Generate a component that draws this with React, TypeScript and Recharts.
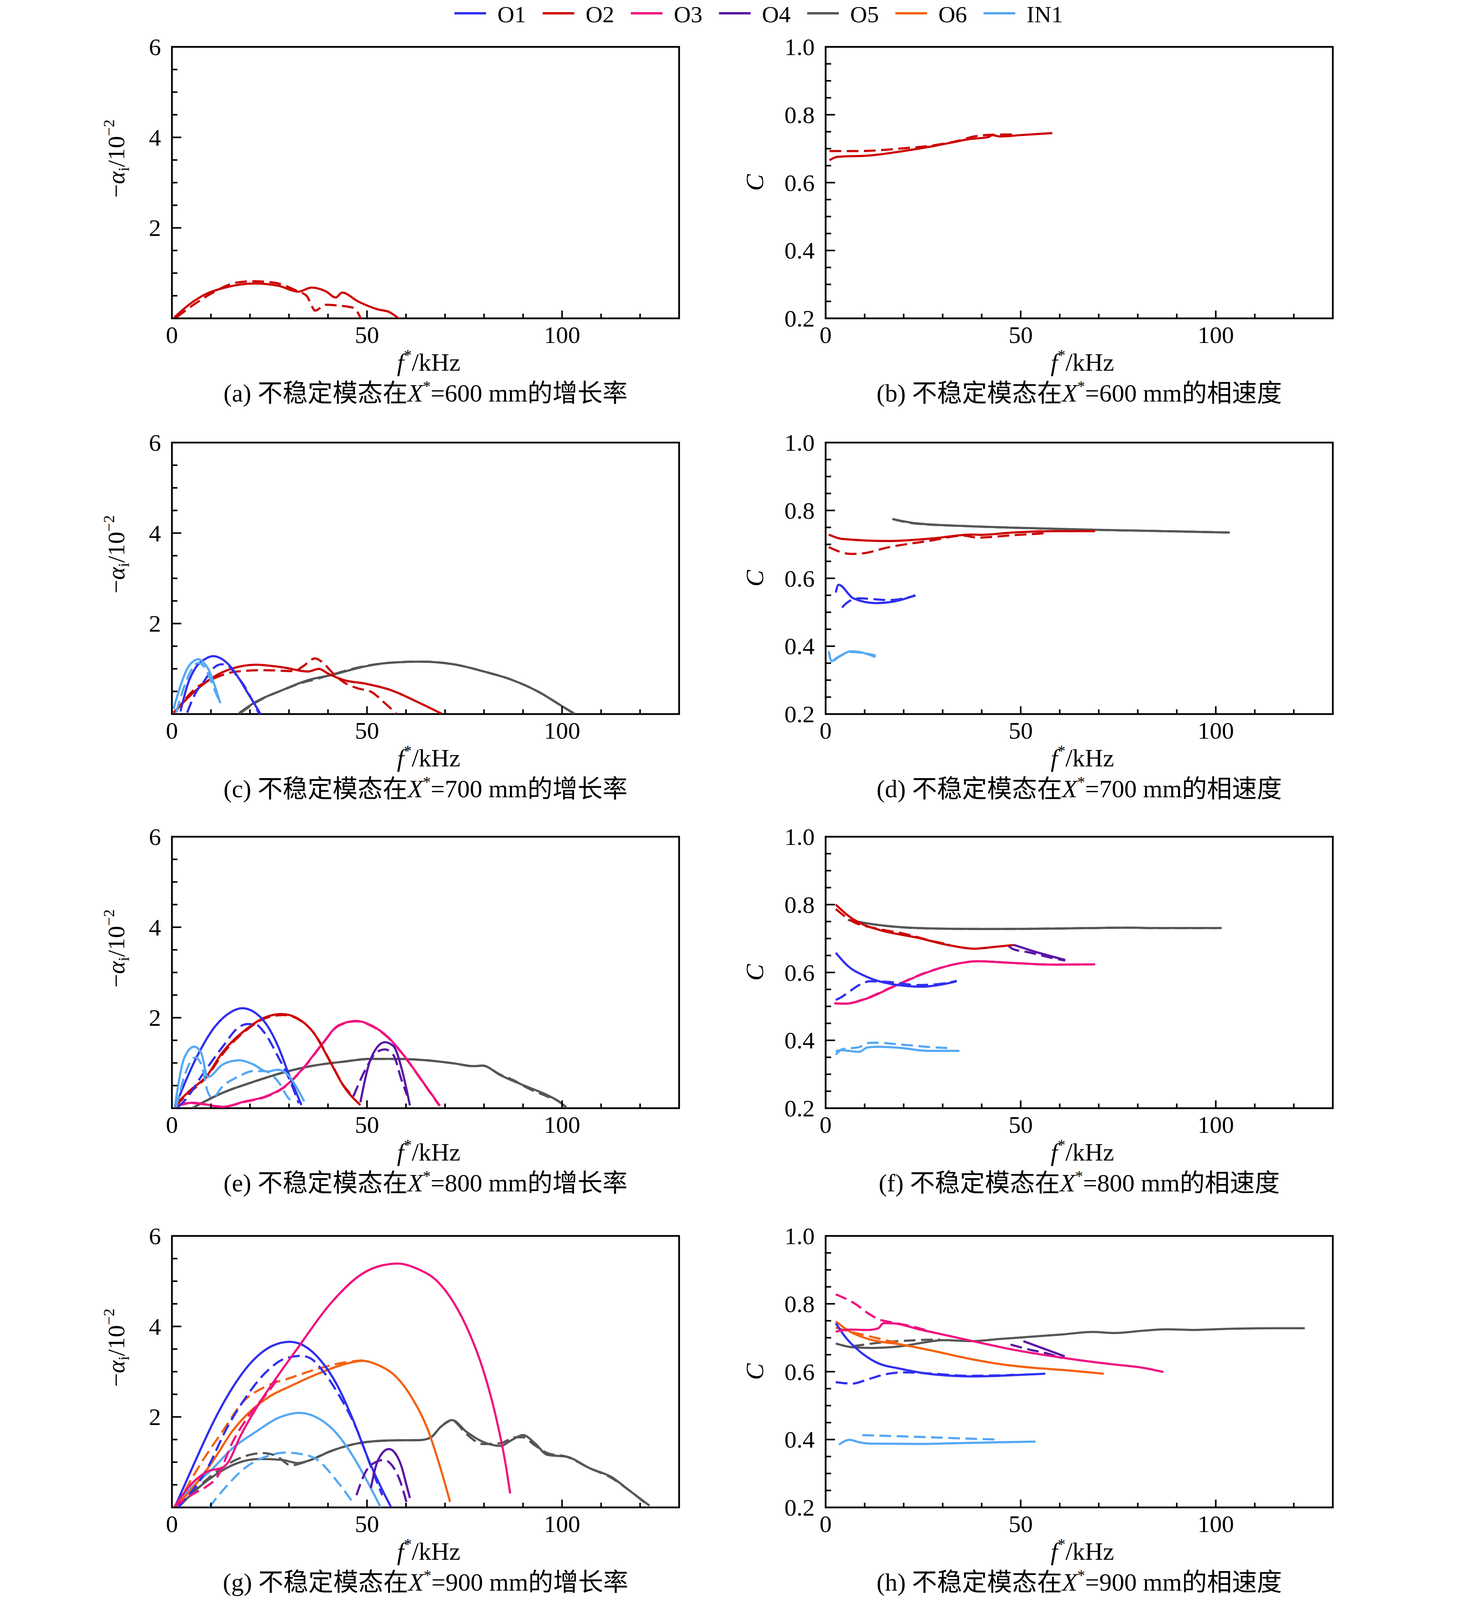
import React from 'react';
import { LineChart, Line, XAxis, YAxis, ReferenceArea } from 'recharts';

type Pt = [number, number];

// ---- shared axis ticks ----
const X_TICKS = [0, 10, 20, 30, 40, 50, 60, 70, 80, 90, 100, 110, 120, 130];
const X_LABELS = [0, 50, 100];
const GROWTH_TICKS = [0, 0.5, 1, 1.5, 2, 2.5, 3, 3.5, 4, 4.5, 5, 5.5, 6];
const GROWTH_LABELS = [2, 4, 6];
const PHASE_TICKS = [0.2, 0.25, 0.3, 0.35, 0.4, 0.45, 0.5, 0.55, 0.6, 0.65, 0.7, 0.75, 0.8, 0.85, 0.9, 0.95, 1.0];
const PHASE_LABELS = [0.2, 0.4, 0.6, 0.8, 1.0];

const LEGEND = ['O1', 'O2', 'O3', 'O4', 'O5', 'O6', 'IN1'];
const COLORS: Record<string, string> = {
  O1: '#2f2ff0',
  O2: '#cc0000',
  O3: '#f0127f',
  O4: '#5a14a6',
  O5: '#555555',
  O6: '#f4620f',
  IN1: '#55a8f2',
};

// ---- (a) X*=600 mm growth ----
const a_O2: Pt[] = [[0.6, 0.02], [4.5, 0.31], [8.1, 0.51], [14.1, 0.69], [21.3, 0.77], [27.3, 0.72], [32.4, 0.59], [35.8, 0.68], [39.4, 0.6], [42, 0.46], [43.6, 0.57], [47.8, 0.37], [52.7, 0.2], [55.7, 0.14], [58.1, 0]];
const a_O2d: Pt[] = [[1.1, 0.02], [5.7, 0.31], [10.5, 0.57], [16.5, 0.79], [20.7, 0.82], [26.1, 0.79], [32.2, 0.6], [34.6, 0.49], [35.8, 0.28], [36.7, 0.17], [39.4, 0.3], [43, 0.28], [46.6, 0.23], [48.4, 0]];

// ---- (b) X*=600 mm phase speed ----
const b_O2: Pt[] = [[1, 0.666], [3, 0.676], [11.4, 0.68], [19.9, 0.693], [28.3, 0.709], [33.1, 0.72], [36.7, 0.728], [41.6, 0.734], [42.8, 0.74], [44.6, 0.736], [50, 0.74], [58.1, 0.746]];
const b_O2d: Pt[] = [[1, 0.693], [7.8, 0.693], [19.9, 0.701], [28.3, 0.711], [34.3, 0.724], [38, 0.736], [42.8, 0.741], [48.8, 0.742]];

// ---- (c) X*=700 mm growth ----
const c_IN1: Pt[] = [[0.4, 0.11], [1.8, 0.52], [3.9, 1.0], [5.7, 1.18], [6.8, 1.21], [8.2, 1.13], [9.6, 0.95], [11, 0.62], [12.4, 0.24]];
const c_IN1d: Pt[] = [[1.1, 0.04], [3.2, 0.62], [5.4, 1.03], [6.8, 1.13], [8.2, 1.05], [9.6, 0.82], [11, 0.52], [12.4, 0.24]];
const c_O1: Pt[] = [[2.2, 0.06], [3.9, 0.62], [6.1, 1.03], [8.2, 1.2], [10.6, 1.28], [13.1, 1.2], [15.2, 1.03], [17.3, 0.77], [19.4, 0.47], [21.2, 0.22], [22.7, 0]];
const c_O1d: Pt[] = [[3.9, 0.03], [6.1, 0.47], [8.2, 0.72], [10.6, 1.01], [12.7, 1.1], [14.5, 1.06], [16.6, 0.85], [18.7, 0.6], [20.5, 0.32], [22.3, 0.01]];
const c_O2: Pt[] = [[0.4, 0.03], [6.1, 0.52], [10.3, 0.8], [15.2, 1.0], [21.5, 1.09], [28.6, 1.03], [34.9, 0.94], [37.7, 1.0], [39.9, 0.9], [44.1, 0.75], [49.7, 0.67], [56.1, 0.53], [62.4, 0.29], [69.1, 0.01]];
const c_O2d: Pt[] = [[0.8, 0.04], [6.1, 0.57], [10.3, 0.77], [16.6, 0.94], [23.7, 0.97], [31.4, 0.95], [33.5, 1.05], [36.7, 1.23], [38.5, 1.15], [41.3, 0.9], [44.1, 0.7], [47.6, 0.57], [51.1, 0.49], [54.6, 0.24], [57.5, 0.01]];
const c_O5: Pt[] = [[17.2, 0.02], [21.5, 0.27], [28.6, 0.54], [34.9, 0.75], [41.3, 0.87], [48.3, 1.03], [55.4, 1.13], [63.8, 1.16], [72.2, 1.1], [80, 0.94], [87, 0.76], [94, 0.49], [99.7, 0.19], [103.2, 0.01]];
const c_O5d: Pt[] = [[17.5, 0.02], [22, 0.28], [29, 0.55], [34.5, 0.72], [36, 0.75], [41.3, 0.88], [48.3, 1.04], [55.4, 1.13], [63.8, 1.16], [72.2, 1.1], [80, 0.94], [87, 0.76], [94, 0.49], [99.7, 0.19], [103, 0.01]];

// ---- (d) X*=700 mm phase speed ----
const d_O5: Pt[] = [[17.1, 0.775], [23.3, 0.762], [36, 0.754], [55, 0.747], [69, 0.743], [86.7, 0.739], [103.6, 0.735]];
const d_O5d: Pt[] = [[17.3, 0.774], [23.3, 0.761], [36, 0.754], [55, 0.747], [69, 0.743], [86.7, 0.739], [103, 0.735]];
const d_O2: Pt[] = [[0.8, 0.729], [4.3, 0.716], [16.3, 0.71], [26.9, 0.717], [37.4, 0.729], [39.5, 0.728], [48, 0.735], [58.6, 0.739], [69.1, 0.739]];
const d_O2d: Pt[] = [[0.8, 0.692], [6.4, 0.672], [9, 0.673], [16.3, 0.692], [26.9, 0.711], [35.3, 0.726], [38.8, 0.72], [48, 0.727], [56.5, 0.733]];
const d_O1: Pt[] = [[2.6, 0.558], [3.3, 0.581], [7.1, 0.541], [12.8, 0.527], [17.7, 0.532], [23, 0.55]];
const d_O1d: Pt[] = [[4.2, 0.514], [5.7, 0.53], [8.6, 0.541], [16.3, 0.536], [23, 0.549]];
const d_IN1: Pt[] = [[0.8, 0.385], [1.5, 0.356], [3.6, 0.37], [6.4, 0.385], [8.6, 0.383], [12.8, 0.368]];
const d_IN1d: Pt[] = [[2.2, 0.361], [4.3, 0.375], [6.4, 0.383], [12.8, 0.373]];

// ---- (e) X*=800 mm growth ----
const e_O1: Pt[] = [[0.8, 0.03], [6, 1.07], [11, 1.8], [15.2, 2.13], [18, 2.21], [20.8, 2.14], [24.4, 1.83], [27.2, 1.37], [30, 0.74], [33.2, 0.07]];
const e_O1d: Pt[] = [[1.5, 0.02], [3.2, 0.16], [8.2, 0.79], [13.1, 1.37], [17, 1.78], [19.4, 1.86], [21.5, 1.85], [23.7, 1.67], [27.2, 1.14], [30, 0.66], [32.5, 0.11]];
const e_O2: Pt[] = [[0.8, 0.07], [4.6, 0.39], [8.9, 0.71], [13, 1.24], [18.7, 1.72], [23.7, 2.0], [28.2, 2.08], [32.1, 1.99], [36.3, 1.67], [40.6, 1.02], [44, 0.49], [48.3, 0.07]];
const e_O2d: Pt[] = [[0.8, 0.05], [5, 0.38], [9, 0.7], [13.2, 1.22], [19, 1.72], [24, 1.99], [28.5, 2.06], [32.3, 1.97], [36.5, 1.65], [40.8, 1.0], [44, 0.5], [46.5, 0.26]];
const e_O3: Pt[] = [[0.8, 0.06], [5.4, 0.12], [13, 0.03], [18.7, 0.15], [23.7, 0.25], [28.6, 0.46], [33.5, 0.87], [38.5, 1.42], [42.7, 1.83], [47.3, 1.93], [51.1, 1.83], [55.4, 1.57], [60.3, 1.07], [64.5, 0.56], [68.7, 0.05]];
const e_O3d: Pt[] = [[1, 0.05], [5.5, 0.11], [13, 0.03], [18.7, 0.14], [23.7, 0.24], [28.6, 0.45], [33.5, 0.86], [38.5, 1.41], [42.7, 1.82], [47.3, 1.92], [51.1, 1.82], [55.4, 1.56], [60.3, 1.06], [64.5, 0.55], [68.5, 0.06]];
const e_O4: Pt[] = [[48.3, 0.13], [51.1, 1.12], [54.6, 1.46], [56.8, 1.37], [58.9, 0.87], [61, 0.06]];
const e_O4d: Pt[] = [[46.5, 0.26], [49.7, 0.87], [52.5, 1.24], [54.6, 1.3], [56.8, 1.17], [58.9, 0.61], [60.3, 0.28]];
const e_O5: Pt[] = [[5.4, 0.01], [13, 0.34], [20.1, 0.56], [28.6, 0.79], [35.6, 0.93], [44.1, 1.03], [51.1, 1.09], [56.8, 1.09], [65.2, 1.06], [72.3, 0.99], [77.2, 0.93], [79.6, 0.94], [84.2, 0.73], [90.6, 0.49], [96.2, 0.29], [99, 0.16], [101.1, 0.02]];
const e_O5d: Pt[] = [[5.4, 0.01], [13, 0.34], [20.1, 0.56], [28.6, 0.79], [35.6, 0.93], [44.1, 1.03], [51.1, 1.09], [56.8, 1.09], [65.2, 1.06], [72.3, 0.99], [77.2, 0.93], [79.6, 0.94], [84.2, 0.74], [88, 0.6], [90.6, 0.47], [96.2, 0.26], [99, 0.16], [101, 0.02]];
const e_IN1: Pt[] = [[0.8, 0.06], [3.2, 1.12], [5.7, 1.36], [7.5, 1.22], [9.2, 0.69], [13.1, 0.97], [17.3, 1.06], [20.8, 0.97], [24.4, 0.81], [27.2, 0.85], [30, 0.71], [32.1, 0.44], [33.9, 0.15]];
const e_IN1d: Pt[] = [[1.1, 0.03], [4.6, 1.0], [6, 1.12], [7.6, 0.95], [9.2, 0.36], [10.3, 0.23], [13.1, 0.49], [17.3, 0.71], [20.8, 0.82], [23.7, 0.82], [27.2, 0.59], [30, 0.21], [30.7, 0.16]];

// ---- (f) X*=800 mm phase speed ----
const f_O2: Pt[] = [[2.6, 0.8], [6.4, 0.762], [9.3, 0.743], [14.2, 0.724], [23.3, 0.703], [31.8, 0.68], [38.1, 0.67], [43.8, 0.676], [48.3, 0.681]];
const f_O2d: Pt[] = [[2.6, 0.787], [7.1, 0.749], [12.8, 0.73], [19.8, 0.715], [28.3, 0.69], [31.8, 0.682]];
const f_O4: Pt[] = [[48.3, 0.681], [54.3, 0.659], [61.4, 0.637]];
const f_O4d: Pt[] = [[46.9, 0.678], [48, 0.669], [52.2, 0.659], [57.1, 0.645], [61.4, 0.635]];
const f_O5: Pt[] = [[5.7, 0.755], [12.8, 0.741], [19.8, 0.733], [30.4, 0.729], [40.9, 0.728], [55, 0.729], [69.1, 0.731], [78.3, 0.732], [83, 0.731], [101.5, 0.731]];
const f_O5d: Pt[] = [[6, 0.754], [12.8, 0.741], [19.8, 0.733], [30.4, 0.729], [40.9, 0.728], [55, 0.729], [69.1, 0.731], [78.3, 0.732], [83, 0.731], [100.5, 0.731]];
const f_O1: Pt[] = [[2.6, 0.658], [5.7, 0.619], [10, 0.59], [16.3, 0.567], [24.8, 0.558], [29, 0.563], [33.6, 0.574]];
const f_O1d: Pt[] = [[2.6, 0.519], [4, 0.527], [6.1, 0.544], [9.3, 0.567], [11.4, 0.574], [16.3, 0.572], [23.3, 0.563], [28.3, 0.565], [33.6, 0.575]];
const f_O3: Pt[] = [[2.2, 0.509], [5, 0.508], [10, 0.521], [17, 0.556], [25.5, 0.598], [33.9, 0.626], [38.8, 0.633], [48, 0.628], [58.6, 0.623], [69.1, 0.624]];
const f_O3d: Pt[] = [[2.4, 0.509], [5, 0.508], [10, 0.522], [17, 0.557], [25.5, 0.599], [33.9, 0.626], [38.8, 0.633], [48, 0.628], [58.6, 0.623], [68.5, 0.624]];
const f_IN1: Pt[] = [[2.6, 0.368], [4, 0.371], [8.6, 0.366], [10.7, 0.379], [13.5, 0.381], [19.8, 0.377], [26.2, 0.369], [34.3, 0.369]];
const f_IN1d: Pt[] = [[2.6, 0.358], [4.3, 0.374], [8.6, 0.38], [10.7, 0.392], [12.8, 0.393], [19.8, 0.387], [26.9, 0.38], [31.4, 0.377]];

// ---- (g) X*=900 mm growth ----
const g_O3: Pt[] = [[0.7, 0.02], [4.1, 0.43], [9, 0.79], [13.2, 0.89], [14.5, 1.01], [17.4, 1.55], [22.3, 2.29], [26.5, 2.83], [32.3, 3.53], [40.6, 4.5], [48.9, 5.17], [53.9, 5.35], [58, 5.39], [63, 5.27], [68, 5.0], [72.2, 4.53], [76.3, 3.84], [79.7, 3.06], [83, 2.02], [85.5, 0.97], [86.7, 0.31]];
const g_O3d: Pt[] = [[0.7, 0.02], [5.7, 0.31], [9, 0.47], [11.5, 0.66], [15.7, 1.47], [19.9, 2.05], [25.7, 2.67], [27.5, 2.9]];
const g_O1: Pt[] = [[0.7, 0], [5.7, 0.97], [10.7, 1.9], [15.7, 2.67], [20.7, 3.24], [25.7, 3.57], [30.2, 3.66], [33.9, 3.57], [38, 3.26], [42.3, 2.71], [46.4, 1.94], [50.6, 1.01], [53.9, 0.39], [56.2, 0]];
const g_O1d: Pt[] = [[1.5, 0], [9, 0.85], [14, 1.74], [19, 2.44], [24, 2.98], [29, 3.29], [33.1, 3.35], [35.6, 3.29], [39, 2.98], [43.1, 2.44], [47.3, 1.74], [51.4, 0.81], [53.9, 0.27]];
const g_O6: Pt[] = [[0.7, 0], [5.7, 0.47], [10.7, 1.05], [15.7, 1.71], [20.7, 2.17], [24.8, 2.44], [30.6, 2.69], [37.3, 2.95], [44, 3.16], [48.9, 3.24], [53, 3.14], [57.2, 2.91], [61.4, 2.44], [65.5, 1.74], [68.9, 0.85], [71.3, 0.12]];
const g_O6d: Pt[] = [[1.2, 0.04], [7.4, 0.97], [13.2, 1.71], [18.2, 2.33], [24, 2.67], [30.6, 2.87], [37.3, 3.06], [44, 3.2], [48.9, 3.25]];
const g_IN1: Pt[] = [[0.7, 0], [4.9, 0.43], [9.9, 0.81], [15.7, 1.32], [21.5, 1.67], [27.3, 1.98], [32.7, 2.09], [37.3, 1.98], [41.4, 1.71], [45.6, 1.24], [49.8, 0.62], [53.5, 0]];
const g_IN1d: Pt[] = [[9.5, 0], [14, 0.47], [19, 0.89], [24, 1.12], [29, 1.21], [33.1, 1.18], [37.3, 1.05], [42.3, 0.58], [46.8, 0.06]];
const g_O5: Pt[] = [[1.6, 0], [5.7, 0.35], [11.5, 0.74], [16.5, 0.97], [22.3, 1.07], [28.2, 1.05], [32.3, 0.98], [35.6, 1.05], [40.6, 1.24], [47.3, 1.41], [55.6, 1.48], [63.9, 1.49], [66.4, 1.55], [68.9, 1.78], [71.8, 1.93], [75.5, 1.67], [79.7, 1.45], [84.2, 1.36], [87.1, 1.49], [90, 1.6], [92.9, 1.43], [96.3, 1.16], [101.2, 1.12], [107, 0.87], [112.9, 0.66], [117, 0.39], [122.4, 0.04]];
const g_O5d: Pt[] = [[1.6, 0], [10.7, 0.74], [17.4, 1.09], [23.2, 1.2], [26.5, 1.15], [30.6, 0.93], [34, 1.0], [40.6, 1.24], [47.3, 1.41], [55.6, 1.48], [63.9, 1.49], [66.4, 1.55], [68.9, 1.78], [71.8, 1.92], [75.5, 1.62], [79.7, 1.4], [84.2, 1.42], [88, 1.55], [90, 1.55], [92.9, 1.38], [96.3, 1.2], [101.2, 1.12], [107, 0.87], [112.9, 0.64], [117, 0.39], [122, 0.05]];
const g_O4: Pt[] = [[51, 0.43], [52.2, 0.89], [53.9, 1.2], [55.6, 1.29], [57.2, 1.2], [58.9, 0.89], [60.1, 0.5], [61, 0.21]];
const g_O4d: Pt[] = [[47.3, 0.27], [49.8, 0.81], [52.2, 1.0], [54.3, 1.05], [56.4, 0.93], [58.5, 0.58], [60.1, 0.12]];

// ---- (h) X*=900 mm phase speed ----
const h_O3: Pt[] = [[2.6, 0.718], [6.1, 0.724], [11, 0.723], [13.5, 0.728], [14.8, 0.743], [17.7, 0.742], [23.5, 0.726], [31.8, 0.705], [40.1, 0.684], [48.4, 0.664], [56.7, 0.648], [65, 0.634], [73.3, 0.622], [81.6, 0.611], [86.6, 0.599]];
const h_O3d: Pt[] = [[2.6, 0.828], [7.7, 0.799], [11, 0.771], [13.5, 0.755], [17.7, 0.744], [22.7, 0.732], [27, 0.718]];
const h_O6: Pt[] = [[2.6, 0.748], [6.1, 0.719], [11, 0.696], [19.4, 0.68], [27.7, 0.661], [36, 0.64], [44.3, 0.623], [52.6, 0.612], [60.9, 0.605], [71.3, 0.594]];
const h_O6d: Pt[] = [[2.6, 0.73], [6.9, 0.716], [11, 0.705], [15.2, 0.693], [19.4, 0.684]];
const h_O5: Pt[] = [[2.6, 0.683], [6.9, 0.672], [11.9, 0.67], [19.4, 0.675], [25.2, 0.686], [30.1, 0.693], [37.6, 0.69], [44.3, 0.696], [52.6, 0.703], [60.9, 0.71], [68.4, 0.717], [74.2, 0.714], [81.6, 0.721], [87.5, 0.725], [94.1, 0.723], [102.4, 0.726], [114.9, 0.728], [122.8, 0.728]];
const h_O5d: Pt[] = [[6.9, 0.675], [15.2, 0.687], [23.5, 0.693], [29.3, 0.695]];
const h_O1: Pt[] = [[2.6, 0.743], [5.2, 0.7], [8.6, 0.661], [12.7, 0.629], [19.4, 0.608], [27.7, 0.592], [38.5, 0.586], [46.8, 0.589], [56.3, 0.594]];
const h_O1d: Pt[] = [[2.6, 0.569], [6.9, 0.565], [11, 0.578], [15.2, 0.592], [20.2, 0.598], [27.7, 0.594], [36, 0.588], [44.3, 0.589], [48.4, 0.591]];
const h_O4: Pt[] = [[50.7, 0.69], [61.3, 0.645]];
const h_O4d: Pt[] = [[47.4, 0.68], [52.6, 0.664], [56.7, 0.654], [60.5, 0.64]];
const h_IN1: Pt[] = [[3.4, 0.385], [6.1, 0.399], [8.6, 0.392], [11.9, 0.388], [23.5, 0.387], [36, 0.39], [53.8, 0.394]];
const h_IN1d: Pt[] = [[9.4, 0.413], [23.5, 0.408], [36, 0.403], [44.7, 0.4]];

type Series = { id: string; pts: Pt[]; dashed?: boolean };
type PanelDef = {
  letter: string;
  pos: string;
  kind: 'growth' | 'phase';
  col: number;
  row: number;
  series: Series[];
};

const PANELS: PanelDef[] = [
  { letter: 'a', pos: '600', kind: 'growth', col: 0, row: 0, series: [
    { id: 'O2', pts: a_O2 }, { id: 'O2', pts: a_O2d, dashed: true },
  ] },
  { letter: 'b', pos: '600', kind: 'phase', col: 1, row: 0, series: [
    { id: 'O2', pts: b_O2 }, { id: 'O2', pts: b_O2d, dashed: true },
  ] },
  { letter: 'c', pos: '700', kind: 'growth', col: 0, row: 1, series: [
    { id: 'O5', pts: c_O5 }, { id: 'O5', pts: c_O5d, dashed: true },
    { id: 'O2', pts: c_O2 }, { id: 'O2', pts: c_O2d, dashed: true },
    { id: 'O1', pts: c_O1 }, { id: 'O1', pts: c_O1d, dashed: true },
    { id: 'IN1', pts: c_IN1 }, { id: 'IN1', pts: c_IN1d, dashed: true },
  ] },
  { letter: 'd', pos: '700', kind: 'phase', col: 1, row: 1, series: [
    { id: 'O5', pts: d_O5 }, { id: 'O5', pts: d_O5d, dashed: true },
    { id: 'O2', pts: d_O2 }, { id: 'O2', pts: d_O2d, dashed: true },
    { id: 'O1', pts: d_O1 }, { id: 'O1', pts: d_O1d, dashed: true },
    { id: 'IN1', pts: d_IN1 }, { id: 'IN1', pts: d_IN1d, dashed: true },
  ] },
  { letter: 'e', pos: '800', kind: 'growth', col: 0, row: 2, series: [
    { id: 'O5', pts: e_O5 }, { id: 'O5', pts: e_O5d, dashed: true },
    { id: 'O3', pts: e_O3 }, { id: 'O3', pts: e_O3d, dashed: true },
    { id: 'O4', pts: e_O4 }, { id: 'O4', pts: e_O4d, dashed: true },
    { id: 'O2', pts: e_O2 }, { id: 'O2', pts: e_O2d, dashed: true },
    { id: 'O1', pts: e_O1 }, { id: 'O1', pts: e_O1d, dashed: true },
    { id: 'IN1', pts: e_IN1 }, { id: 'IN1', pts: e_IN1d, dashed: true },
  ] },
  { letter: 'f', pos: '800', kind: 'phase', col: 1, row: 2, series: [
    { id: 'O5', pts: f_O5 }, { id: 'O5', pts: f_O5d, dashed: true },
    { id: 'O3', pts: f_O3 }, { id: 'O3', pts: f_O3d, dashed: true },
    { id: 'O2', pts: f_O2 }, { id: 'O2', pts: f_O2d, dashed: true },
    { id: 'O4', pts: f_O4 }, { id: 'O4', pts: f_O4d, dashed: true },
    { id: 'O1', pts: f_O1 }, { id: 'O1', pts: f_O1d, dashed: true },
    { id: 'IN1', pts: f_IN1 }, { id: 'IN1', pts: f_IN1d, dashed: true },
  ] },
  { letter: 'g', pos: '900', kind: 'growth', col: 0, row: 3, series: [
    { id: 'O5', pts: g_O5 }, { id: 'O5', pts: g_O5d, dashed: true },
    { id: 'IN1', pts: g_IN1 }, { id: 'IN1', pts: g_IN1d, dashed: true },
    { id: 'O6', pts: g_O6 }, { id: 'O6', pts: g_O6d, dashed: true },
    { id: 'O1', pts: g_O1 }, { id: 'O1', pts: g_O1d, dashed: true },
    { id: 'O4', pts: g_O4 }, { id: 'O4', pts: g_O4d, dashed: true },
    { id: 'O3', pts: g_O3 }, { id: 'O3', pts: g_O3d, dashed: true },
  ] },
  { letter: 'h', pos: '900', kind: 'phase', col: 1, row: 3, series: [
    { id: 'O5', pts: h_O5 }, { id: 'O5', pts: h_O5d, dashed: true },
    { id: 'O6', pts: h_O6 }, { id: 'O6', pts: h_O6d, dashed: true },
    { id: 'O1', pts: h_O1 }, { id: 'O1', pts: h_O1d, dashed: true },
    { id: 'O4', pts: h_O4 }, { id: 'O4', pts: h_O4d, dashed: true },
    { id: 'O3', pts: h_O3 }, { id: 'O3', pts: h_O3d, dashed: true },
    { id: 'IN1', pts: h_IN1 }, { id: 'IN1', pts: h_IN1d, dashed: true },
  ] },
];

// ---- layout ----
// The photographed page comes out 4096 px tall, so the 4666 px tall
// reference layout is squeezed vertically by KY (x positions unchanged).
const PAGE_W = 3780;
const PAGE_H = 4096;
const KY = PAGE_H / 4666;
const PLOT_W = 1298;
const PLOT_H = Math.round(792 * KY);
const COL_LEFT = [440, 2113];
const ROW_TOP = [137, 1291, 2440, 3604].map((v) => Math.round(v * KY));
const PAD_LEFT = 200; // chart space left of the plot (margin + 1px axis)
const PAD_TOP = 70;
const M = { top: PAD_TOP, right: 60, bottom: 129, left: PAD_LEFT - 1 };
const FONT = "'Liberation Serif', 'Times New Roman', 'Noto Sans CJK SC', serif";
const TICK_FS = 62;
const TITLE_FS = 64;
const LINE_W = 5.5;
const DASH = '30 14';

const near = (list: number[], v: number) => list.some((l) => Math.abs(l - v) < 1e-6);

const XTick = (props: any) => {
  const { x, y, payload } = props;
  const major = near(X_LABELS, payload.value);
  return (
    <g>
      <line x1={x} x2={x} y1={y} y2={y - (major ? 20 : 12)} stroke="#000" strokeWidth={4} />
      {major && (
        <text x={x} y={y + 63} textAnchor="middle" fontFamily={FONT} fontSize={TICK_FS} fill="#000">
          {payload.value}
        </text>
      )}
    </g>
  );
};

const makeYTick = (labels: number[], fmt: (v: number) => string) => (props: any) => {
  const { x, y, payload } = props;
  const major = near(labels, payload.value);
  return (
    <g>
      <line x1={x} x2={x + (major ? 24 : 14)} y1={y} y2={y} stroke="#000" strokeWidth={4} />
      {major && (
        <text x={x - 28} y={y + 21} textAnchor="end" fontFamily={FONT} fontSize={TICK_FS} fill="#000">
          {fmt(payload.value)}
        </text>
      )}
    </g>
  );
};

const GrowthTick = makeYTick(GROWTH_LABELS, (v) => String(v));
const PhaseTick = makeYTick(PHASE_LABELS, (v) => v.toFixed(1));

function Panel({ def }: { def: PanelDef }) {
  const left = COL_LEFT[def.col];
  const top = ROW_TOP[def.row];
  const growth = def.kind === 'growth';
  const yDomain: [number, number] = growth ? [0, 6] : [0.2, 1.0];
  return (
    <div style={{ position: 'absolute', left: left - PAD_LEFT, top: top - PAD_TOP }}>
      <LineChart width={PLOT_W + PAD_LEFT + M.right} height={PLOT_H + PAD_TOP + M.bottom + 1} margin={M}>
        <XAxis
          type="number"
          dataKey="x"
          domain={[0, 130]}
          ticks={X_TICKS}
          interval={0}
          allowDataOverflow
          height={1}
          tickSize={0}
          tickMargin={0}
          axisLine={false}
          tickLine={false}
          tick={(p: any) => <XTick {...p} />}
        />
        <YAxis
          type="number"
          domain={yDomain}
          ticks={growth ? GROWTH_TICKS : PHASE_TICKS}
          interval={0}
          allowDataOverflow
          width={1}
          tickSize={0}
          tickMargin={0}
          axisLine={false}
          tickLine={false}
          tick={(p: any) => (growth ? <GrowthTick {...p} /> : <PhaseTick {...p} />)}
        />
        {def.series.map((s, i) => (
          <Line
            key={`${def.letter}-${s.id}-${i}`}
            data={s.pts.map(([x, y]) => ({ x, y }))}
            dataKey="y"
            type="monotone"
            stroke={COLORS[s.id]}
            strokeWidth={LINE_W}
            strokeDasharray={s.dashed ? DASH : undefined}
            dot={false}
            activeDot={false}
            isAnimationActive={false}
          />
        ))}
        <ReferenceArea
          x1={0}
          x2={130}
          y1={yDomain[0]}
          y2={yDomain[1]}
          fill="none"
          stroke="#000"
          strokeWidth={4.5}
          ifOverflow="visible"
        />
      </LineChart>
    </div>
  );
}

function Texts() {
  return (
    <svg
      width={PAGE_W}
      height={PAGE_H}
      style={{ position: 'absolute', left: 0, top: 0, pointerEvents: 'none' }}
      fontFamily={FONT}
    >
      {LEGEND.map((id, i) => {
        const x0 = 1163 + i * 225.7;
        return (
          <g key={id}>
            <line x1={x0} x2={x0 + 81} y1={34} y2={34} stroke={COLORS[id]} strokeWidth={6} />
            <text x={x0 + 110} y={57} fontSize={60} fill="#000">{id}</text>
          </g>
        );
      })}
      {PANELS.map((p) => {
        const left = COL_LEFT[p.col];
        const top = ROW_TOP[p.row];
        const cx = left + PLOT_W / 2;
        const bottom = top + PLOT_H;
        const growth = p.kind === 'growth';
        return (
          <g key={p.letter}>
            <text x={cx + 8} y={bottom + 134} textAnchor="middle" fontSize={TITLE_FS} fill="#000">
              <tspan fontStyle="italic">f</tspan>
              <tspan fontSize={40} dy={-27}>*</tspan>
              <tspan dy={27}>/kHz</tspan>
            </text>
            {growth ? (
              <text transform={`translate(${left - 122},${top + Math.round(326 * KY)}) rotate(-90)`} textAnchor="middle" fontSize={62} fill="#000">
                <tspan>−</tspan>
                <tspan fontStyle="italic">α</tspan>
                <tspan fontSize={40} dy={12}>i</tspan>
                <tspan dy={-12}>/10</tspan>
                <tspan fontSize={40} dy={-26}>−2</tspan>
              </text>
            ) : (
              <text transform={`translate(${left - 160},${top + PLOT_H / 2}) rotate(-90)`} textAnchor="middle" fontSize={TITLE_FS} fontStyle="italic" fill="#000">
                C
              </text>
            )}
            <text x={cx} y={bottom + 213} textAnchor="middle" fontSize={TITLE_FS} fill="#000">
              <tspan>{`(${p.letter}) 不稳定模态在`}</tspan>
              <tspan fontStyle="italic">X</tspan>
              <tspan fontSize={40} dy={-26}>*</tspan>
              <tspan dy={26}>{`=${p.pos} mm的${growth ? '增长率' : '相速度'}`}</tspan>
            </text>
          </g>
        );
      })}
    </svg>
  );
}

export default function App() {
  return (
    <div style={{ position: 'absolute', left: 0, top: 0, width: PAGE_W, height: PAGE_H, background: '#fff', overflow: 'hidden' }}>
      {PANELS.map((p) => (
        <Panel key={p.letter} def={p} />
      ))}
      <Texts />
    </div>
  );
}
